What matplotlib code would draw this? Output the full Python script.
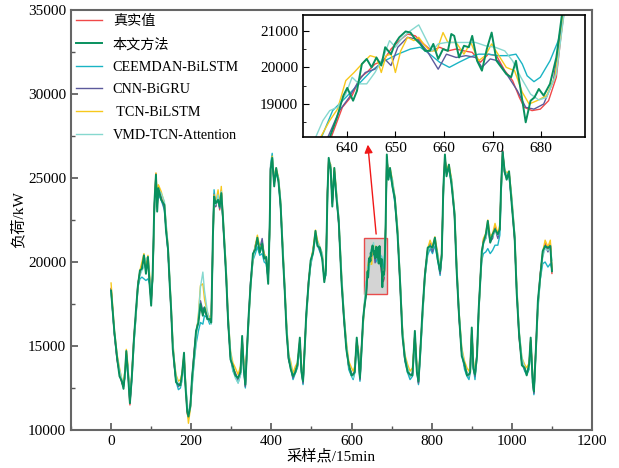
import numpy as np
import matplotlib
matplotlib.use("Agg")
import matplotlib.pyplot as plt
from matplotlib.patches import Rectangle
from matplotlib.ticker import MultipleLocator

plt.rcParams['font.family'] = ['Liberation Serif', 'Noto Sans CJK SC']
plt.rcParams['axes.unicode_minus'] = False

# sample points (coarse), the zoomed window is filled in below
main_x = [0, 8, 15, 21, 27, 31, 35, 38, 42, 47,
          52, 57, 62, 67, 72, 77, 82, 87, 92, 96,
          100, 104, 108, 112, 115, 118, 125, 133, 137, 142,
          146, 150, 154, 158, 162, 168, 173, 177, 182, 185,
          190, 193, 198, 202, 207, 212, 218, 223, 229, 233,
          240, 246, 250, 254, 257, 261, 267, 271, 275, 279,
          287, 292, 298, 304, 310, 317, 323, 327, 331, 335,
          338, 343, 348, 354, 360, 365, 371, 377, 382, 387,
          392, 396, 398, 402, 407, 412, 418, 423, 429, 433,
          438, 443, 448, 454, 460, 465, 471, 475, 479, 483,
          487, 493, 498, 504, 510, 515, 521, 527, 532, 536,
          540, 543, 548, 552, 557, 562, 568, 575, 581, 587,
          593, 600, 604, 608, 613, 617, 621, 625, 629,
          688, 692, 696, 702, 708, 715, 721, 727, 733, 740,
          746, 752, 758, 763, 767, 771, 777, 783, 790, 796,
          802, 808, 815, 821, 825, 829, 833, 837, 843, 850,
          857, 862, 868, 875, 882, 888, 893, 896, 900, 904,
          908, 913, 917, 921, 925, 929, 935, 940, 946, 952,
          958, 965, 970, 973, 977, 982, 987, 993, 1000, 1007,
          1012, 1018, 1025, 1032, 1037, 1043, 1047, 1052, 1055, 1060,
          1065, 1071, 1077, 1083, 1090, 1096, 1100]

true_main = [18430, 15750, 14170, 13370, 12780, 12580, 13370, 14660, 13570, 11490,
             13370, 15550, 16940, 18730, 19320, 19720, 20220, 19520, 20120, 18930,
             17540, 19320, 23290, 25280, 23290, 24280, 23890, 23290, 22100, 20710,
             18930, 16940, 14960, 13770, 12980, 12580, 12780, 13170, 14460, 12980,
             10990, 10690, 11590, 12980, 14560, 15750, 16550, 17340, 16940, 17140,
             16750, 16450, 16550, 21310, 24090, 23290, 23890, 23100, 24280, 22500,
             19320, 16350, 14360, 13670, 13370, 12980, 13570, 15460, 13770, 12580,
             14360, 16550, 18730, 20320, 20910, 21310, 20710, 20910, 20320, 20120,
             18930, 22300, 25670, 26070, 24680, 25470, 24880, 23290, 20320, 18330,
             15950, 14170, 13770, 13080, 13570, 13770, 15360, 13570, 12780, 14960,
             16750, 18930, 19920, 20710, 21700, 21110, 20710, 20320, 18930, 19320,
             24280, 26070, 25670, 23490, 25470, 24090, 22300, 18930, 16550, 14960,
             13770, 13370, 13170, 13570, 15360, 14560, 12980, 14960, 16550,
             26270, 25080, 25470, 24680, 23690, 21700, 18730, 15750, 14170, 13570,
             13170, 13370, 15750, 13570, 12780, 14560, 16940, 19320, 20710, 21110,
             20710, 21310, 20320, 19320, 20520, 24280, 26270, 25280, 25670, 24680,
             22700, 19720, 16750, 14560, 13770, 13370, 13170, 13570, 15950, 13770,
             13170, 14560, 16940, 18930, 20520, 21310, 21510, 22300, 21310, 21510,
             22100, 21510, 22100, 24280, 26660, 25280, 25080, 25280, 23490, 21310,
             18330, 15550, 13970, 13570, 13370, 13770, 15360, 12980, 12180, 14960,
             17540, 19320, 20520, 21110, 20710, 21110, 19320]

ours_main = [18300, 15900, 14300, 13200, 12900, 12450, 13500, 14700, 13400, 11600,
             13250, 15400, 17100, 18600, 19500, 19600, 20400, 19300, 20300, 18700,
             17400, 19500, 23500, 25200, 23000, 24400, 23700, 23400, 21900, 20800,
             18800, 17100, 14800, 13900, 12850, 12700, 12650, 13300, 14600, 12800,
             11100, 10800, 11450, 13100, 14400, 15900, 16400, 17500, 16800, 17300,
             16600, 16600, 16400, 21500, 23900, 23500, 23700, 23300, 24100, 22700,
             19200, 16500, 14200, 13800, 13250, 13100, 13450, 15600, 13650, 12700,
             14200, 16700, 18600, 20500, 20750, 21450, 20550, 21100, 20200, 20300,
             18700, 22500, 25500, 26200, 24500, 25600, 24700, 23400, 20200, 18450,
             15800, 14300, 13650, 13200, 13450, 13900, 15500, 13450, 12900, 14800,
             16900, 18800, 20100, 20550, 21850, 20950, 20850, 20150, 18800, 19500,
             24100, 26200, 25500, 23300, 25600, 23900, 22450, 18800, 16700, 14800,
             13900, 13250, 13300, 13450, 15500, 14400, 13100, 14800, 16700,
             26400, 24900, 25600, 24500, 23800, 21550, 18850, 15600, 14300, 13450,
             13300, 13250, 15900, 13450, 12900, 14400, 17100, 19200, 20850, 20950,
             20850, 21450, 20150, 19450, 20400, 24400, 26400, 25100, 25800, 24500,
             22850, 19600, 16900, 14400, 13900, 13250, 13300, 13450, 16100, 13650,
             13300, 14400, 17100, 18800, 20650, 21150, 21650, 22450, 21150, 21650,
             21950, 21650, 21950, 24450, 26550, 25400, 24900, 25400, 23350, 21450,
             18200, 15700, 13850, 13700, 13250, 13900, 15500, 12850, 12300, 14800,
             17700, 19200, 20650, 20950, 20850, 20950, 19450]

ceemdan_main = [18300, 15800, 14300, 13500, 12900, 12700, 13200, 14300, 13700, 11700,
                13000, 15200, 16700, 18500, 19000, 19100, 19000, 18900, 19000, 18700,
                17800, 19000, 23000, 25000, 23600, 24000, 23700, 23100, 22000, 20600,
                19000, 17000, 15100, 13800, 12900, 12400, 12500, 13000, 14000, 13100,
                11300, 10900, 11400, 12600, 14000, 15100, 15900, 16400, 16300, 16800,
                16700, 16300, 16400, 20800, 24300, 23400, 23700, 23200, 24100, 22600,
                19400, 16500, 14300, 13500, 13200, 12800, 13300, 15000, 13700, 12500,
                14200, 16400, 18600, 20100, 20500, 20900, 20400, 20500, 20000, 19900,
                19000, 22100, 25800, 26470, 24800, 25300, 24800, 23200, 20500, 18400,
                16000, 14200, 13700, 13000, 13400, 13700, 15000, 13500, 12700, 14800,
                16600, 18800, 19800, 20500, 21500, 21000, 20600, 20200, 19000, 19200,
                24000, 25800, 25500, 23600, 25200, 24000, 22300, 19000, 16700, 15000,
                13600, 13200, 13000, 13400, 15000, 14400, 12900, 14800, 16400,
                26000, 25000, 25300, 24500, 23500, 21700, 18900, 15900, 14100, 13400,
                13000, 13200, 15300, 13500, 12700, 14300, 16800, 19100, 20400, 20800,
                20500, 21000, 20100, 19200, 20300, 24000, 26000, 25300, 25500, 24600,
                22800, 19900, 16900, 14600, 13600, 13200, 13000, 13400, 15600, 13700,
                13000, 14400, 16800, 18700, 20100, 20500, 20600, 20800, 20500, 20700,
                21000, 21000, 21600, 24000, 26300, 25300, 25000, 25100, 23500, 21400,
                18400, 15700, 14100, 13500, 13300, 13600, 15000, 13000, 12100, 14700,
                17300, 19000, 19900, 20000, 19700, 19900, 19600]

cnn_main = [18400, 15800, 14200, 13400, 12800, 12600, 13300, 14500, 13600, 11600,
            13300, 15500, 16900, 18700, 19400, 19800, 20300, 19600, 20100, 19000,
            17600, 19200, 23200, 25200, 23400, 24200, 23800, 23200, 22100, 20700,
            18900, 17000, 15000, 13800, 13000, 12600, 12800, 13200, 14400, 13000,
            11100, 10800, 11600, 13000, 14600, 15800, 16600, 17700, 17100, 17300,
            16800, 16500, 16600, 21200, 24000, 23300, 23900, 23200, 24200, 22500,
            19300, 16400, 14400, 13700, 13400, 13000, 13600, 15400, 13800, 12600,
            14400, 16600, 18800, 20300, 21000, 21400, 20800, 21400, 20400, 20200,
            19000, 22200, 25600, 26000, 24700, 25400, 24900, 23300, 20400, 18400,
            16000, 14200, 13800, 13100, 13600, 13800, 15300, 13600, 12800, 14900,
            16800, 18900, 19900, 20700, 21600, 21100, 20700, 20300, 19000, 19300,
            24200, 26000, 25600, 23500, 25400, 24100, 22300, 19000, 16600, 15000,
            13800, 13400, 13200, 13600, 15300, 14600, 13000, 14900, 16500,
            26200, 25100, 25400, 24700, 23700, 21700, 18800, 15800, 14200, 13600,
            13200, 13400, 15700, 13600, 12800, 14500, 16900, 19300, 20700, 21100,
            20600, 21300, 20300, 19300, 20500, 24200, 26200, 25300, 25600, 24700,
            22700, 19700, 16800, 14600, 13800, 13400, 13200, 13600, 15900, 13800,
            13200, 14500, 16900, 18900, 20400, 21200, 21400, 22100, 21200, 21400,
            22000, 21400, 22000, 24200, 26600, 25300, 25100, 25300, 23500, 21300,
            18400, 15600, 14000, 13600, 13400, 13800, 15300, 13000, 12200, 14900,
            17500, 19300, 20400, 21000, 20600, 21000, 19500]

tcn_main = [18750, 16000, 14500, 13700, 13000, 12800, 13600, 14800, 13900, 11800,
            13300, 15400, 16800, 18600, 19500, 20000, 20500, 19800, 20400, 19300,
            17800, 19100, 23000, 25300, 23800, 24600, 24200, 23500, 22300, 21000,
            19200, 17300, 15300, 14100, 13300, 12900, 13000, 13400, 14500, 13300,
            11200, 10400, 11300, 12700, 14300, 15500, 16900, 18600, 18700, 17800,
            17000, 16700, 16700, 21000, 24000, 23500, 24300, 23400, 24500, 22800,
            19700, 16800, 14700, 14000, 13700, 13300, 13800, 15200, 14200, 12900,
            14300, 16400, 18500, 20200, 21000, 21600, 20900, 21000, 20500, 20300,
            19300, 22000, 25400, 26300, 25000, 25600, 25000, 23600, 20700, 18700,
            16300, 14500, 14100, 13400, 13800, 14000, 15200, 13900, 13000, 14700,
            16600, 18800, 20000, 20800, 21900, 21300, 20900, 20500, 19200, 19400,
            24100, 26000, 25800, 23700, 25600, 24300, 22600, 19300, 16900, 15300,
            14100, 13700, 13500, 13800, 15200, 14800, 13300, 14800, 16400,
            26100, 25300, 25600, 24900, 23900, 22000, 19100, 16100, 14500, 13900,
            13500, 13700, 15600, 13900, 13100, 14400, 16700, 19100, 20800, 21300,
            20900, 21500, 20500, 19600, 20400, 24000, 26100, 25500, 25800, 24900,
            23000, 20100, 17100, 14900, 14100, 13700, 13500, 13800, 15800, 14100,
            13500, 14400, 16700, 18800, 20400, 21400, 21700, 22500, 21500, 21700,
            22300, 21700, 22200, 24100, 26400, 25500, 25300, 25400, 23800, 21600,
            18700, 15900, 14300, 13900, 13700, 14000, 15300, 13300, 12400, 14700,
            17300, 19200, 20600, 21300, 20900, 21300, 19600]

vmd_main = [18200, 15900, 14400, 13600, 13000, 12700, 13200, 14400, 13800, 12000,
            13100, 15100, 16700, 18600, 19200, 19500, 19700, 20200, 20300, 19100,
            17900, 19100, 22800, 25000, 23700, 24300, 24100, 23600, 22400, 21000,
            19300, 17300, 15300, 14000, 13200, 12700, 12600, 12900, 14100, 13200,
            11600, 11000, 11300, 12500, 14000, 15300, 16800, 18500, 19400, 18300,
            17100, 16500, 16300, 20800, 23800, 23400, 24000, 23300, 24200, 22800,
            19700, 16800, 14700, 13600, 13100, 12800, 13300, 14900, 14000, 12900,
            14000, 16200, 18400, 20100, 20900, 21100, 20900, 20700, 20400, 20300,
            19400, 21800, 25300, 26200, 25000, 25400, 25000, 23700, 20800, 18800,
            16300, 14500, 13900, 13200, 13500, 13800, 14900, 13800, 13000, 14500,
            16400, 18600, 19800, 20700, 21400, 21200, 20900, 20500, 19300, 19200,
            23700, 25700, 25800, 23900, 25300, 24300, 22700, 19400, 17000, 15200,
            13800, 13300, 13100, 13500, 14900, 14800, 13200, 14500, 16200,
            25900, 25300, 25400, 24900, 23900, 22000, 19200, 16100, 14400, 13700,
            13200, 13300, 15200, 13800, 13000, 14200, 16500, 19000, 20600, 21000,
            20800, 21100, 20500, 19600, 20200, 23800, 25900, 25400, 25500, 24900,
            23000, 20100, 17100, 14800, 13900, 13400, 13200, 13500, 15500, 14000,
            13300, 14200, 16600, 18700, 20300, 21100, 21400, 22000, 21400, 21500,
            21900, 21600, 22000, 23900, 26200, 25500, 25200, 25300, 23800, 21700,
            18700, 16000, 14300, 13700, 13400, 13700, 15000, 13300, 12400, 14500,
            17100, 19000, 20300, 20800, 20700, 20800, 20100]

# finer readings inside the zoomed window (from the inset)
true_win_x = [633, 636.8, 639.1, 641.1, 642.8, 644.1, 645.8, 647.5, 649.1, 650.8, 652.5,
              654.1, 655.8, 657.5, 659.1, 660.8, 662.5, 664.1, 665.8, 667.5, 669.1,
              670.8, 672.5, 674.1, 675.5, 676.5, 678.1, 679.8, 681.5, 683.1, 684.1, 685.2]
true_win = [17600, 18090, 18910, 19230, 19730, 19860, 20090, 20180, 20500, 20730, 20910,
            20860, 20640, 20450, 20550, 20450, 20500, 20450, 20410, 20140, 20360,
            20320, 19910, 19640, 19180, 18910, 18820, 18860, 19090, 19730, 20910, 22000]

ours_win_x = [633, 636.5, 638, 639.3, 640.1, 641.3, 642.1, 643.1, 644.1, 645.1, 646.1,
              647.1, 647.9, 649.1, 649.9, 650.8, 652.1, 653.1, 654.1, 655.1, 656.1,
              657.1, 657.8, 658.8, 659.8, 660.8, 661.5, 662.1, 663.1, 664.1, 665.1,
              665.8, 666.8, 667.8, 668.8, 669.8, 670.8, 671.8, 672.8, 673.8, 674.8,
              675.8, 676.8, 677.8, 678.6, 679.5, 680.5, 681.8, 683.1, 684.1, 685]
ours_win = [17500, 18090, 18640, 19230, 19440, 19090, 19360, 20090, 20230, 20000, 20270,
            20050, 20550, 20360, 20640, 20820, 20980, 20950, 20770, 20640, 20450,
            20450, 20640, 20230, 20500, 20450, 20910, 20860, 20270, 20590, 20550,
            20860, 20180, 19910, 20500, 20950, 20180, 20000, 19820, 19730, 20180,
            19360, 18500, 19090, 19180, 19410, 19230, 19550, 20270, 21270, 22200]

ceemdan_win_x = [632, 634.8, 637.1, 639.8, 642.5, 645.1, 647.8, 650.5, 653.1, 655.1,
                 657.1, 659.1, 661.1, 663.1, 665.1, 667.1, 669.1, 671.1, 673.1, 674.8,
                 676.1, 677.1, 678.5, 679.8, 681.8, 683.5, 684.5, 685.5]
ceemdan_win = [17300, 18090, 18820, 19180, 19550, 19910, 20180, 20360, 20500, 20550,
               20360, 20140, 20000, 20140, 20270, 20360, 20360, 20320, 20320, 20360,
               20090, 19770, 19610, 19730, 20180, 20730, 21360, 22300]

cnn_win_x = [633, 636.1, 638.5, 640.5, 642.5, 643.8, 645.8, 647.8, 649.1, 650.5, 652.5,
             654.5, 656.5, 658.8, 660.5, 662.5, 664.5, 666.5, 667.8, 669.5, 671.1,
             673.1, 675.1, 676.8, 678.5, 680.5, 682.5, 684.1, 685]
cnn_win = [17500, 18090, 18820, 19180, 19640, 19860, 19950, 20230, 20050, 20550, 20820,
           20770, 20450, 19950, 20360, 20270, 20320, 20270, 20000, 20230, 20180,
           19770, 19360, 18910, 18860, 19000, 19640, 21090, 22000]

tcn_win_x = [633, 636.5, 638.1, 639.8, 641.5, 643.1, 644.8, 646.1, 647.1, 648.1, 649.1,
             650, 651.1, 652.5, 653.8, 654.8, 655.8, 657.1, 658.5, 659.8, 660.8,
             662.5, 664.1, 665.5, 667.1, 668.5, 669.8, 671.1, 672.8, 674.5, 676.1,
             677.5, 679.1, 681.1, 682.8, 684.1, 685]
tcn_win = [17700, 18550, 18860, 19640, 19860, 20090, 20320, 20270, 19860, 20320, 20360,
           19860, 20450, 20820, 20730, 20820, 20640, 20450, 20450, 20950, 20680,
           20680, 20360, 20680, 20180, 20320, 20640, 20360, 20000, 19910, 19320,
           19000, 19090, 19230, 19730, 20910, 22000]

vmd_win_x = [632, 635.1, 636.5, 638.1, 639.8, 641.1, 642.5, 644.1, 645.8, 647.5, 648.8,
             650, 651.5, 653.1, 654.8, 656.1, 657.5, 658.8, 660.5, 662.5, 664.5,
             666.5, 668.5, 670.5, 672.5, 674.1, 675.8, 677.8, 679.5, 681.1, 683.1,
             684.5, 685.5]
vmd_win = [17600, 18550, 18820, 18910, 19270, 19730, 19550, 19550, 19860, 20270, 20730,
           20550, 20820, 21000, 21160, 20820, 20450, 20640, 20680, 20680, 20680,
           20680, 20590, 20550, 20450, 20180, 19730, 19270, 19110, 19180, 19820,
           21270, 22200]

labels = ['真实值', '本文方法', 'CEEMDAN-BiLSTM', 'CNN-BiGRU', ' TCN-BiLSTM', 'VMD-TCN-Attention']
colors = ['#f04848', '#08905e', '#1ab4c4', '#5c5a9c', '#f7c81c', '#86d8cf']

# zoom window (also the limits of the inset)
win_x = (631, 689)
win_y = (18100, 21430)


def merged(xm, ym, xw, yw):
    x = np.concatenate([np.asarray(xm, float), np.asarray(xw, float)])
    y = np.concatenate([np.asarray(ym, float), np.asarray(yw, float)])
    order = np.argsort(x)
    return x[order], y[order]


series = [merged(main_x, true_main, true_win_x, true_win),
          merged(main_x, ours_main, ours_win_x, ours_win),
          merged(main_x, ceemdan_main, ceemdan_win_x, ceemdan_win),
          merged(main_x, cnn_main, cnn_win_x, cnn_win),
          merged(main_x, tcn_main, tcn_win_x, tcn_win),
          merged(main_x, vmd_main, vmd_win_x, vmd_win)]

# draw the proposed method last so it sits on top
draw_order = [0, 2, 3, 4, 5, 1]
widths = [1.0, 1.4, 1.0, 1.0, 1.0, 1.0]

fig = plt.figure(figsize=(6.19, 4.68), dpi=100)
ax = fig.add_axes([0.1147, 0.0812, 0.8417, 0.8974])

lines = {}
for i in draw_order:
    x, y = series[i]
    lines[i], = ax.plot(x, y, color=colors[i], lw=widths[i], label=labels[i], zorder=3)

ax.add_patch(Rectangle((win_x[0], win_y[0]), win_x[1] - win_x[0], win_y[1] - win_y[0],
                       facecolor='#d4d4d4', edgecolor='#e84c4c', lw=1.0, zorder=2))
ax.annotate('', xy=(640, 27150), xytext=(662, 21500),
            arrowprops=dict(arrowstyle='-|>', color='#f01818', lw=1.0,
                            mutation_scale=12), zorder=4)

ax.set_xlim(-100, 1200)
ax.set_ylim(10000, 35000)
ax.xaxis.set_major_locator(MultipleLocator(200))
ax.xaxis.set_minor_locator(MultipleLocator(100))
ax.yaxis.set_major_locator(MultipleLocator(5000))
ax.yaxis.set_minor_locator(MultipleLocator(2500))
ax.tick_params(which='both', direction='in', colors='#555555', labelcolor='black', labelsize=11)
ax.tick_params(which='major', length=5, width=1.2)
ax.tick_params(which='minor', length=3, width=1.0)
for sp in ax.spines.values():
    sp.set_color('#666666')
    sp.set_linewidth(1.5)

ax.set_xlabel('采样点/15min', fontsize=11, labelpad=1)
ax.set_ylabel('负荷/kW', fontsize=11, labelpad=2)

ax.legend([lines[i] for i in range(6)], labels, loc='upper left', frameon=False,
          fontsize=10.2, handlelength=1.85, labelspacing=0.68, borderaxespad=0.15,
          borderpad=0.2, handletextpad=0.75)

# inset
axin = fig.add_axes([0.4895, 0.7073, 0.4556, 0.2607])
for i in draw_order:
    x, y = series[i]
    axin.plot(x, y, color=colors[i], lw=widths[i])
axin.set_xlim(*win_x)
axin.set_ylim(*win_y)
axin.xaxis.set_major_locator(MultipleLocator(10))
axin.yaxis.set_major_locator(MultipleLocator(1000))
axin.yaxis.set_minor_locator(MultipleLocator(500))
axin.tick_params(which='both', direction='in', labelsize=11)
axin.tick_params(which='major', length=4)
axin.tick_params(which='minor', length=2.5)
for sp in axin.spines.values():
    sp.set_linewidth(1.2)

fig.savefig('out.png', dpi=100)
